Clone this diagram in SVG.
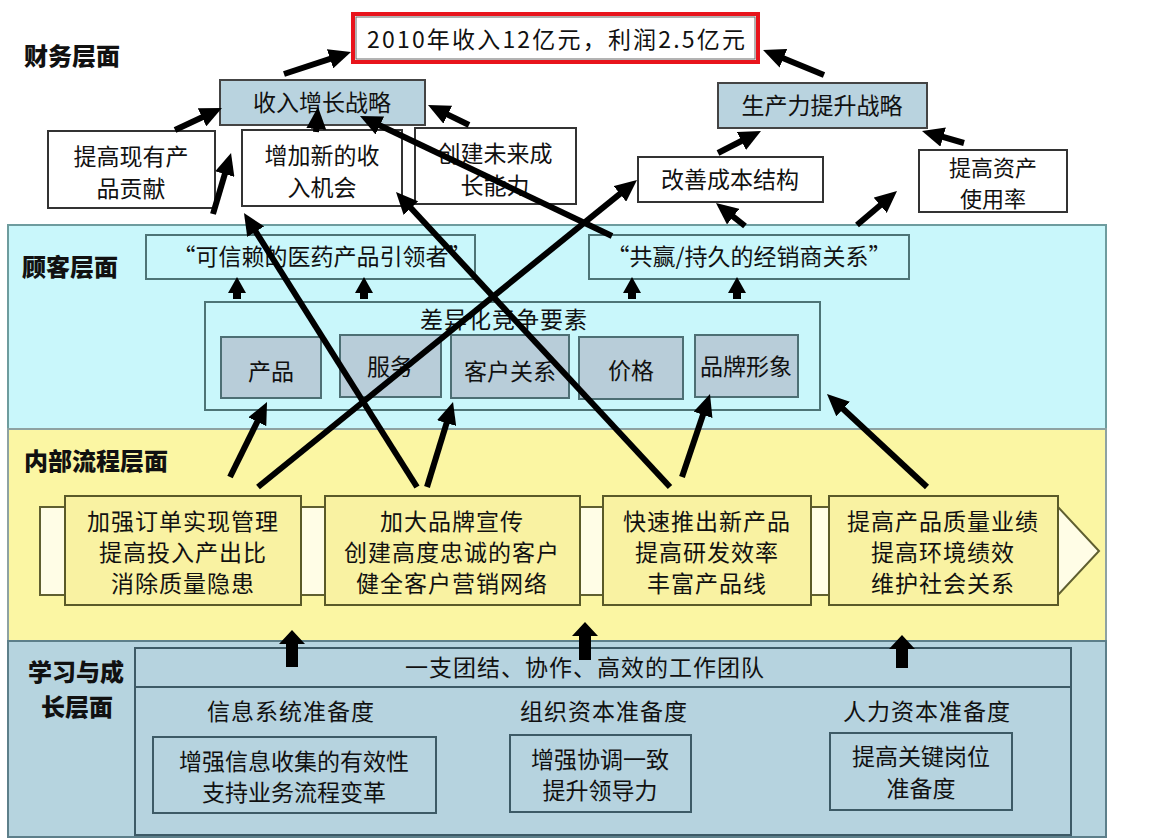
<svg xmlns="http://www.w3.org/2000/svg" width="1159" height="839" viewBox="0 0 1159 839">
<defs>
<style>
text{font-family:"Noto Sans CJK SC","Noto Sans",sans-serif;font-size:23px;fill:#111;text-anchor:middle}
.lbl{font-weight:900;text-anchor:start;font-size:24px}
.wide{letter-spacing:1px}
.wbox{fill:#fff;stroke:#333;stroke-width:2}
.sbox{fill:#b9d3df;stroke:#444;stroke-width:2}
.cbox{fill:#c9f7fb;stroke:#4d7476;stroke-width:2}
.subx{fill:#b8cdd9;stroke:#4d6f74;stroke-width:2}
.ibox{fill:#f9f2a2;stroke:#5a5a28;stroke-width:2}
.lbox{fill:#b6d3df;stroke:#3d5a66;stroke-width:2}
.conn line{stroke:#000;stroke-width:6;marker-end:url(#ah)}
.conn line.sm{stroke-width:8;marker-end:url(#ahs)}
.blk{fill:#000}
</style>
<marker id="ah" viewBox="0 0 22 20" markerWidth="22" markerHeight="20" refX="12" refY="10" orient="auto" markerUnits="userSpaceOnUse">
<path d="M0,0 L22,10 L0,20 z" fill="#000"/>
</marker>
<marker id="ahs" viewBox="0 0 16 18" markerWidth="16" markerHeight="18" refX="6" refY="9" orient="auto" markerUnits="userSpaceOnUse">
<path d="M0,0 L16,9 L0,18 z" fill="#000"/>
</marker>
</defs>
<rect width="1159" height="839" fill="#fff"/>

<!-- layers -->
<g id="layer-customer">
<rect x="8" y="225" width="1098" height="204" fill="#c9f7fb" stroke="#6e9c9e" stroke-width="2"/>
<text class="lbl" x="22" y="276">顾客层面</text>
</g>
<g id="layer-internal">
<rect x="8" y="429" width="1098" height="212" fill="#fbf6a3" stroke="#8ea2a2" stroke-width="2"/>
<text class="lbl" x="24" y="470">内部流程层面</text>
<polygon points="40,507 1058,507 1099,551 1058,595 40,595" fill="#fffde6" stroke="#5f5f30" stroke-width="2"/>
</g>
<g id="layer-learning">
<rect x="8" y="641" width="1098" height="196" fill="#b6d4df" stroke="#5d7f8a" stroke-width="2"/>
<text class="lbl" x="28" y="681">学习与成</text>
<text class="lbl" x="41" y="716">长层面</text>
</g>
<g id="layer-finance">
<text class="lbl" x="24" y="65">财务层面</text>
</g>

<!-- financial nodes -->
<g id="n-goal">
<rect x="353" y="14" width="405" height="48" fill="#fff" stroke="#e8141c" stroke-width="4"/>
<rect x="356" y="17" width="399" height="42" fill="none" stroke="#666" stroke-width="1"/>
<text x="556" y="48" textLength="378" lengthAdjust="spacing">2010年收入12亿元，利润2.5亿元</text>
</g>
<g id="n-revenue">
<rect class="sbox" x="220" y="80" width="205" height="45"/>
<text x="322" y="111">收入增长战略</text>
</g>
<g id="n-productivity">
<rect class="sbox" x="718" y="83" width="209" height="45"/>
<text x="822" y="114">生产力提升战略</text>
</g>
<g id="n-existing">
<rect class="wbox" x="48" y="131" width="167" height="77"/>
<text x="131" y="165">提高现有产</text>
<text x="131" y="197">品贡献</text>
</g>
<g id="n-newrev">
<rect class="wbox" x="242" y="130" width="160" height="76"/>
<text x="322" y="164">增加新的收</text>
<text x="322" y="196">入机会</text>
</g>
<g id="n-future">
<rect class="wbox" x="415" y="128" width="161" height="76"/>
<text x="495" y="162">创建未来成</text>
<text x="495" y="194">长能力</text>
</g>
<g id="n-cost">
<rect class="wbox" x="638" y="157" width="185" height="45"/>
<text x="730" y="188">改善成本结构</text>
</g>
<g id="n-asset">
<rect class="wbox" x="919" y="150" width="148" height="62"/>
<text x="993" y="176" style="font-size:22px">提高资产</text>
<text x="993" y="207" style="font-size:22px">使用率</text>
</g>

<!-- customer nodes -->
<g id="n-q1">
<rect class="cbox" x="146" y="235" width="329" height="44"/>
<text x="322" y="265">“可信赖的医药产品引领者”</text>
</g>
<g id="n-q2">
<rect class="cbox" x="589" y="235" width="320" height="44"/>
<text x="749" y="265">“共赢/持久的经销商关系”</text>
</g>
<g id="n-diff">
<rect class="cbox" x="205" y="302" width="615" height="108"/>
<text x="504" y="328" class="wide">差异化竞争要素</text>
</g>
<g id="n-product">
<rect class="subx" x="221" y="337" width="100" height="61"/>
<text x="271" y="380">产品</text>
</g>
<g id="n-service">
<rect class="subx" x="340" y="335" width="101" height="62"/>
<text x="390" y="375">服务</text>
</g>
<g id="n-relation">
<rect class="subx" x="451" y="335" width="118" height="63"/>
<text x="510" y="380">客户关系</text>
</g>
<g id="n-price">
<rect class="subx" x="579" y="337" width="104" height="62"/>
<text x="631" y="379">价格</text>
</g>
<g id="n-brand">
<rect class="subx" x="695" y="335" width="103" height="62"/>
<text x="746" y="375">品牌形象</text>
</g>

<!-- internal nodes -->
<g id="n-p1">
<rect class="ibox" x="65" y="496" width="236" height="109"/>
<text x="183" y="530" class="wide">加强订单实现管理</text>
<text x="183" y="561" class="wide">提高投入产出比</text>
<text x="183" y="592" class="wide">消除质量隐患</text>
</g>
<g id="n-p2">
<rect class="ibox" x="325" y="496" width="255" height="109"/>
<text x="452" y="530" class="wide">加大品牌宣传</text>
<text x="452" y="561" class="wide">创建高度忠诚的客户</text>
<text x="452" y="592" class="wide">健全客户营销网络</text>
</g>
<g id="n-p3">
<rect class="ibox" x="603" y="496" width="208" height="109"/>
<text x="707" y="530" class="wide">快速推出新产品</text>
<text x="707" y="561" class="wide">提高研发效率</text>
<text x="707" y="592" class="wide">丰富产品线</text>
</g>
<g id="n-p4">
<rect class="ibox" x="829" y="496" width="229" height="109"/>
<text x="943" y="530" class="wide">提高产品质量业绩</text>
<text x="943" y="561" class="wide">提高环境绩效</text>
<text x="943" y="592" class="wide">维护社会关系</text>
</g>

<!-- learning nodes -->
<g id="n-team">
<rect class="lbox" x="135" y="648" width="936" height="187"/>
<line x1="135" y1="687" x2="1071" y2="687" stroke="#3d5a66" stroke-width="2"/>
<text x="585" y="676" class="wide">一支团结、协作、高效的工作团队</text>
<text x="291" y="720" class="wide">信息系统准备度</text>
<text x="604" y="720" class="wide">组织资本准备度</text>
<text x="927" y="720" class="wide">人力资本准备度</text>
</g>
<g id="n-info">
<rect class="lbox" x="153" y="737" width="283" height="76"/>
<text x="294" y="770">增强信息收集的有效性</text>
<text x="294" y="801">支持业务流程变革</text>
</g>
<g id="n-org">
<rect class="lbox" x="510" y="735" width="181" height="77"/>
<text x="600" y="768">增强协调一致</text>
<text x="600" y="799">提升领导力</text>
</g>
<g id="n-human">
<rect class="lbox" x="830" y="733" width="182" height="77"/>
<text x="921" y="765">提高关键岗位</text>
<text x="921" y="797">准备度</text>
</g>

<!-- connectors -->
<g id="connectors" class="conn">
<line x1="284" y1="74" x2="341.5" y2="55.1"/>
<line x1="824" y1="75" x2="772.3" y2="53.8"/>
<line x1="175" y1="130" x2="212.9" y2="112.2"/>
<line x1="316" y1="132" x2="317.2" y2="117"/>
<line x1="469" y1="125" x2="437" y2="109.4"/>
<line x1="718" y1="153" x2="752.1" y2="135.5"/>
<line x1="964" y1="143" x2="931.6" y2="133.7"/>
<line x1="213" y1="214" x2="228.2" y2="162.6"/>
<line x1="417" y1="487" x2="249.3" y2="221.5"/>
<line x1="670" y1="487" x2="402.8" y2="199.3"/>
<line x1="258" y1="487" x2="629.2" y2="186.3"/>
<line x1="612" y1="236" x2="369" y2="120.3"/>
<line x1="745" y1="226" x2="723.8" y2="209.2"/>
<line x1="857" y1="225" x2="889.4" y2="197.5"/>
<line class="sm" x1="237" y1="299" x2="237" y2="287"/>
<line class="sm" x1="364" y1="299" x2="364" y2="287"/>
<line class="sm" x1="632" y1="299" x2="632" y2="287"/>
<line class="sm" x1="737" y1="299" x2="737" y2="287"/>
<line x1="230" y1="477" x2="262.6" y2="411"/>
<line x1="427" y1="487" x2="450.1" y2="411.6"/>
<line x1="682" y1="477" x2="706.8" y2="403.5"/>
<line x1="927" y1="487" x2="834.3" y2="400.8"/>
<polygon class="blk" points="292,630 305,644 298,644 298,667 286,667 286,644 279,644"/>
<polygon class="blk" points="585,622 598,636 591,636 591,660 579,660 579,636 572,636"/>
<polygon class="blk" points="902,635 915,649 908,649 908,668 896,668 896,649 889,649"/>
</g>
</svg>
